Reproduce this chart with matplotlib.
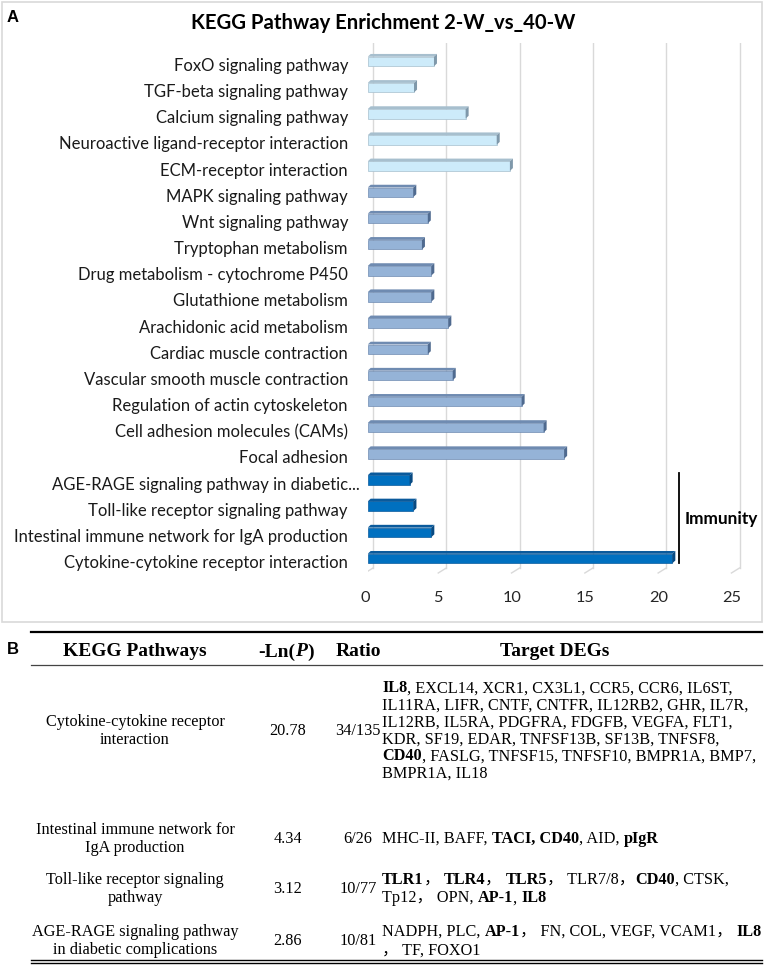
import numpy as np
import matplotlib
matplotlib.use('Agg')
import matplotlib.pyplot as plt
from matplotlib.patches import Polygon, Rectangle
from matplotlib.lines import Line2D
from matplotlib.font_manager import FontProperties

W, H = 765, 967

# ---- chart data (top to bottom) ----
light_paths = ['FoxO signaling pathway', 'TGF-beta signaling pathway',
               'Calcium signaling pathway', 'Neuroactive ligand-receptor interaction',
               'ECM-receptor interaction']
light_vals = [4.52, 3.16, 6.68, 8.8, 9.7]

mid_paths = ['MAPK signaling pathway', 'Wnt signaling pathway', 'Tryptophan metabolism',
             'Drug metabolism - cytochrome P450', 'Glutathione metabolism',
             'Arachidonic acid metabolism', 'Cardiac muscle contraction',
             'Vascular smooth muscle contraction', 'Regulation of actin cytoskeleton',
             'Cell adhesion molecules (CAMs)', 'Focal adhesion']
mid_vals = [3.11, 4.1, 3.7, 4.34, 4.34, 5.5, 4.1, 5.8, 10.5, 12.0, 13.4]

immune_paths = ['AGE-RAGE signaling pathway in diabetic...',
                'Toll-like receptor signaling pathway',
                'Intestinal immune network for IgA production',
                'Cytokine-cytokine receptor interaction']
immune_vals = [2.86, 3.12, 4.34, 20.78]

x_ticks = [0, 5, 10, 15, 20, 25]

# ---- table data ----
tbl_names = [['Cytokine-cytokine receptor', 'interaction'],
             ['Intestinal immune network for', 'IgA production'],
             ['Toll-like receptor signaling', 'pathway'],
             ['AGE-RAGE signaling pathway', 'in diabetic complications']]
tbl_lnp = ['20.78', '4.34', '3.12', '2.86']
tbl_ratio = ['34/135', '6/26', '10/77', '10/81']
tbl_degs = [
    [[('IL8', 'b'), (', EXCL14, XCR1, CX3L1, CCR5, CCR6, IL6ST,', 'r')],
     [('IL11RA, LIFR, CNTF, CNTFR, IL12RB2, GHR, IL7R,', 'r')],
     [('IL12RB, IL5RA, PDGFRA, FDGFB, VEGFA, FLT1,', 'r')],
     [('KDR, SF19, EDAR, TNFSF13B, SF13B, TNFSF8,', 'r')],
     [('CD40', 'b'), (', FASLG, TNFSF15, TNFSF10, BMPR1A, BMP7,', 'r')],
     [('BMPR1A, IL18', 'r')]],
    [[('MHC-II, BAFF, ', 'r'), ('TACI, CD40', 'b'), (', AID, ', 'r'), ('pIgR', 'b')]],
    [[('TLR1', 'b'), ('\uff0c ', 'r'), ('TLR4', 'b'), ('\uff0c ', 'r'), ('TLR5', 'b'),
      ('\uff0c TLR7/8\uff0c', 'r'), ('CD40', 'b'), (', CTSK,', 'r')],
     [('Tp12\uff0c OPN, ', 'r'), ('AP-1', 'b'), (', ', 'r'), ('IL8', 'b')]],
    [[('NADPH, PLC, ', 'r'), ('AP-1', 'b'), ('\uff0c FN, COL, VEGF, VCAM1\uff0c ', 'r'), ('IL8', 'b')],
     [('\uff0c TF, FOXO1', 'r')]],
]
row_y = [730, 838, 888, 940]

SANS = ['Lato', 'DejaVu Sans']
SERIF = ['Liberation Serif', 'Noto Sans CJK SC', 'DejaVu Serif']

fig = plt.figure(figsize=(W / 100, H / 100), dpi=100)
fig.patch.set_facecolor('white')

# outer frame of panel A
fig.patches.append(Rectangle((2 / W, 1 - 622 / H), 760 / W, 620 / H, transform=fig.transFigure,
                             fill=False, ec='#D9D9D9', lw=1.2))
fig.text(13 / W, 1 - 17 / H, 'A', fontsize=12, weight='bold', family='Liberation Sans',
         va='center', ha='center')
fig.text(383 / W, 1 - 23 / H, 'KEGG Pathway Enrichment 2-W_vs_40-W', fontsize=14.6,
         weight='bold', family=SANS, ha='center', va='center')

# chart axes: front zero at x=367.7px, 14.66 px per unit; rows 26.16 px apart from y=66
x0, ppu = 367.7, 14.66
y0, ppr = 66, 26.16
xmax = 25.5
ytop, ybot = (43 - y0) / ppr, (575 - y0) / ppr
ax = fig.add_axes([x0 / W, 1 - 575 / H, xmax * ppu / W, (575 - 43) / H])
ax.set_xlim(0, xmax)
ax.set_ylim(ybot, ytop)
for s in ax.spines.values():
    s.set_visible(False)
ax.set_xticks([])
ax.set_yticks([])

paths = light_paths + mid_paths + immune_paths
vals = light_vals + mid_vals + immune_vals
groups = [('#CDEBFA', '#A7BFCE', '#7F98AA')] * len(light_vals) + \
         [('#95B3D7', '#6F8BB1', '#4F6A8F')] * len(mid_vals) + \
         [('#0070C0', '#0A5A9C', '#084A82')] * len(immune_vals)

# gridlines (back wall + floor)
gx_back = 5.3 / ppu
gy_floor = (568 - y0) / ppr
gy_front = (573 - y0) / ppr
for v in x_ticks:
    ax.plot([v + gx_back, v + gx_back], [ytop, gy_floor], color='#D9D9D9', lw=1, zorder=0)
    ax.plot([v + gx_back, v - 0.55 + gx_back], [gy_floor, gy_front], color='#D9D9D9', lw=1, zorder=0)
    ax.text(v - 0.18, (598 - y0) / ppr, str(v), ha='center', va='center', fontsize=11.8,
            family=SANS, color='#262626')

# 3D-looking bars
off = -4.5 / ppr
h = 9.5 / ppr
dx = 3 / ppu
dy = 2.8 / ppr
ypos = np.arange(len(vals)) + off
fronts = [g[0] for g in groups]
ax.barh(ypos, vals, height=h, color=fronts, edgecolor=[g[1] for g in groups], lw=0.5, zorder=3)
for yc, v, (fc, tc, sc) in zip(ypos, vals, groups):
    top = yc - h / 2
    bot = yc + h / 2
    ax.add_patch(Polygon([(0, top), (v, top), (v + dx, top - dy), (dx, top - dy)],
                         closed=True, fc=tc, ec='none', zorder=3))
    ax.add_patch(Polygon([(v, top), (v + dx, top - dy), (v + dx, bot - dy), (v, bot)],
                         closed=True, fc=sc, ec='none', zorder=3))

# category labels, right aligned; the truncated one spills a bit to the right
for i, p in enumerate(paths):
    xr = 360 if p.endswith('...') else 348
    ax.text((xr - x0) / ppu, i, p, ha='right', va='center', fontsize=12, family=SANS,
            color='#1a1a1a')

# immunity bracket
ax.plot([(679 - x0) / ppu] * 2, [(473 - y0) / ppr, (563 - y0) / ppr], color='black', lw=1.3)
ax.text((685 - x0) / ppu, (519 - y0) / ppr, 'Immunity', fontsize=12.4, weight='bold',
        family=SANS, ha='left', va='center')

# ---- panel B table ----
r = fig.canvas.get_renderer()


def font(style, size):
    return FontProperties(family=SERIF, size=size,
                          weight='bold' if 'b' in style else 'normal',
                          style='italic' if 'i' in style else 'normal')


def seg_width(s, fp):
    t1 = fig.text(0, 0, '|' + s + '|', fontproperties=fp)
    t2 = fig.text(0, 0, '||', fontproperties=fp)
    w = t1.get_window_extent(r).width - t2.get_window_extent(r).width
    t1.remove()
    t2.remove()
    return w


def draw_segments(x, y, segs, size, ha='left'):
    fps = [font(st, size) for _, st in segs]
    ws = [seg_width(s, fp) for (s, _), fp in zip(segs, fps)]
    if ha == 'center':
        x -= sum(ws) / 2
    for (s, _), fp, w in zip(segs, fps, ws):
        fig.text(x / W, 1 - y / H, s, fontproperties=fp, ha='left', va='baseline')
        x += w


def hline(y, lw, color='black'):
    fig.add_artist(Line2D([31 / W, 762 / W], [1 - y / H] * 2, lw=lw, color=color))


fig.text(13 / W, 1 - 649 / H, 'B', fontsize=12, weight='bold', family='Liberation Sans',
         ha='center', va='center')
hline(632, 1.6)
hline(665, 0.9, '#444444')
hline(960, 1.0)
hline(963, 1.0)

HS = 14
hb = 6.5
draw_segments(135, 650 + hb, [('KEGG Pathways', 'b')], HS, 'center')
draw_segments(286, 650 + hb, [('-Ln(', 'b'), ('P', 'bi'), (')', 'b')], HS, 'center')
draw_segments(358, 650 + hb, [('Ratio', 'b')], HS, 'center')
draw_segments(555, 650 + hb, [('Target DEGs', 'b')], HS, 'center')

BS = 11.7
bb = 5
dl = 17
nl = 19
for yc, names, lnp, ratio, degs in zip(row_y, tbl_names, tbl_lnp, tbl_ratio, tbl_degs):
    for k, nm in enumerate(names):
        yy = yc + (k - (len(names) - 1) / 2) * nl
        draw_segments(135, yy + bb, [(nm, 'r')], BS, 'center')
    draw_segments(288, yc + bb, [(lnp, 'r')], BS, 'center')
    draw_segments(358, yc + bb, [(ratio, 'r')], BS, 'center')
    for k, line in enumerate(degs):
        yy = yc + (k - (len(degs) - 1) / 2) * (dl if len(degs) > 2 else nl)
        draw_segments(382, yy + bb, line, BS, 'left')

fig.savefig('out.png', dpi=100)
